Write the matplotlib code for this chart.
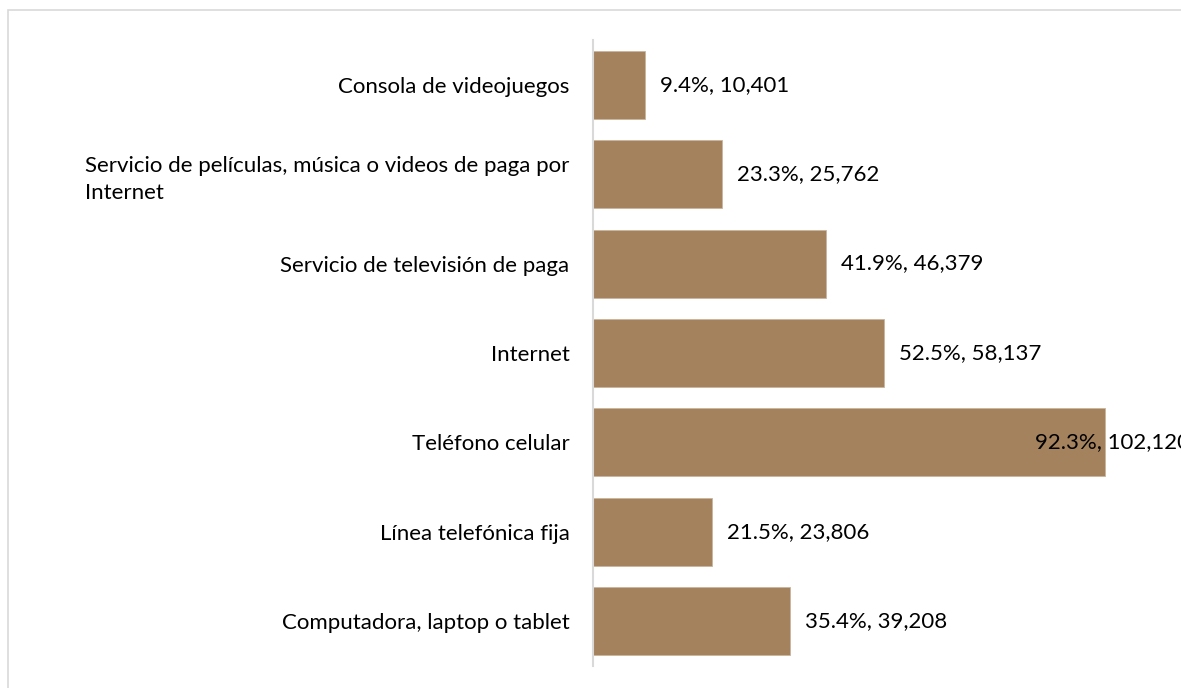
import matplotlib
matplotlib.use("Agg")
import matplotlib.pyplot as plt
from matplotlib.patches import Rectangle

# ── data (top to bottom as shown) ──
categories = [
    "Consola de videojuegos",
    "Servicio de películas, música o videos de paga por\nInternet",
    "Servicio de televisión de paga",
    "Internet",
    "Teléfono celular",
    "Línea telefónica fija",
    "Computadora, laptop o tablet",
]
percents = [9.4, 23.3, 41.9, 52.5, 92.3, 21.5, 35.4]
counts   = [10401, 25762, 46379, 58137, 102120, 23806, 39208]

BAR_COLOR = "#A4825E"
FS = 16
plt.rcParams["font.family"] = ["Lato", "DejaVu Sans"]

W, H = 1181, 688
fig = plt.figure(figsize=(W / 100, H / 100), dpi=100)

# light frame around the chart area (clipped on right/bottom like the source)
fig.patches.append(Rectangle((8 / W, -0.1), 1.2, 1.1 - 10 / H,
                             transform=fig.transFigure, fill=False,
                             edgecolor="#D9D9D9", linewidth=1.2))

ax = fig.add_axes([593 / W, 1 - 666 / H, 1 - 593 / W, (666 - 40) / H])
ypos = list(range(len(categories)))
ax.barh(ypos, counts, height=0.76, color=BAR_COLOR, edgecolor="#C9B59C",
        linewidth=0.6, zorder=2)

ax.set_ylim(len(categories) - 0.5, -0.5)
ax.set_xlim(0, 102120 * (W - 593) / (1105 - 593))

for s in ["top", "right", "bottom"]:
    ax.spines[s].set_visible(False)
ax.spines["left"].set_color("#D9D9D9")
ax.spines["left"].set_linewidth(1.5)
ax.set_xticks([])
ax.set_yticks(ypos)
ax.set_yticklabels(categories, fontsize=FS, color="#000000")
ax.tick_params(axis="y", length=0, pad=17)
for lbl in ax.get_yticklabels():
    lbl.set_multialignment("left")
    lbl.set_linespacing(1.4)

# the largest bar's label sits partly inside the bar, as in the source
biggest = max(counts)
for y, p, c in zip(ypos, percents, counts):
    off = -70 if c == biggest else 15
    ax.annotate(f"{p:.1f}%, {c:,}", xy=(c, y), xytext=(off, 0),
                textcoords="offset pixels",
                ha="left", va="center", fontsize=FS, color="#000000",
                annotation_clip=False)

fig.savefig("out.png", dpi=100)
